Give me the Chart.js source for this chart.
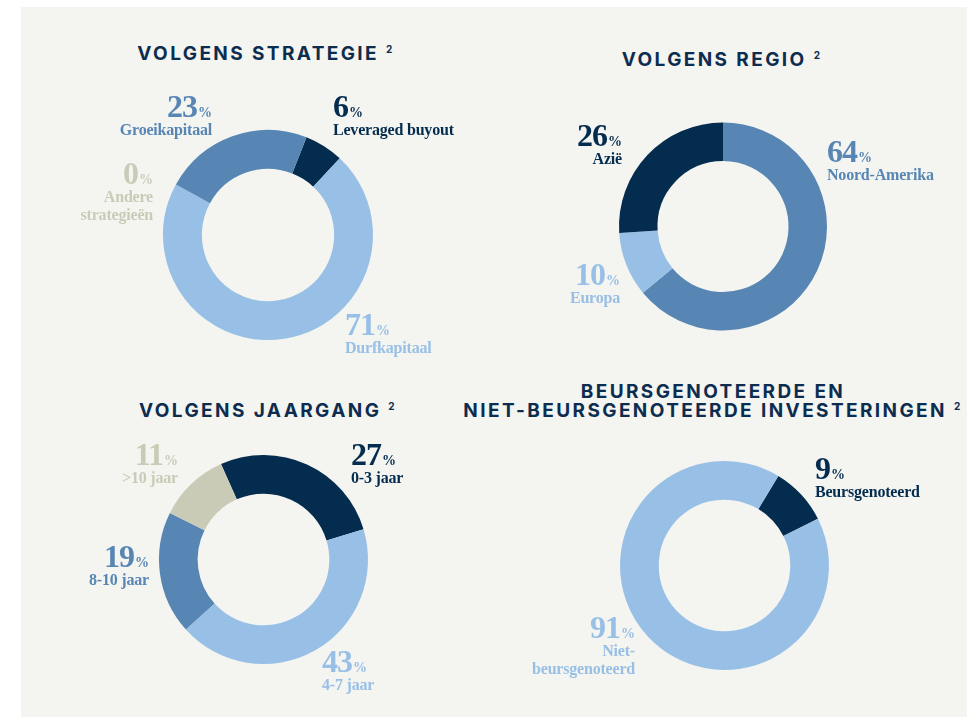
<!DOCTYPE html>
<html>
<head>
<meta charset="utf-8">
<script src="https://cdn.jsdelivr.net/npm/chart.js@4"></script>
<style>
  html, body { margin: 0; padding: 0; background: #ffffff; }
  #panel { position: absolute; left: 21px; top: 7px; width: 946px; height: 710px; background: #f4f4f0; }
  .box { position: absolute; }
  .title { position: absolute; text-align: center; font-family: Inter, sans-serif; font-weight: 700;
           font-size: 19px; line-height: 19px; letter-spacing: 2.4px; color: #0c2d4f; white-space: nowrap; }
  .title sup { font-size: 10px; vertical-align: 0; position: relative; top: -7px; margin-left: 7px; }
</style>
</head>
<body>
<div id="panel"></div>
<div class="title" style="left:66px; width:400px; top:44px;">VOLGENS STRATEGIE<sup>2</sup></div>
<div class="title" style="left:522px; width:400px; top:50px;">VOLGENS REGIO<sup>2</sup></div>
<div class="title" style="left:68px; width:400px; top:401px;">VOLGENS JAARGANG<sup>2</sup></div>
<div class="title" style="left:463px; width:500px; top:382px;">BEURSGENOTEERDE EN</div>
<div class="title" style="left:413px; width:600px; top:401px;">NIET-BEURSGENOTEERDE INVESTERINGEN<sup>2</sup></div>

<div class="box" style="left:20px; top:80px; width:470px; height:290px;"><canvas id="strategie"></canvas></div>
<div class="box" style="left:490px; top:90px; width:477px; height:290px;"><canvas id="regio"></canvas></div>
<div class="box" style="left:20px; top:430px; width:470px; height:288px;"><canvas id="jaargang"></canvas></div>
<div class="box" style="left:490px; top:430px; width:477px; height:288px;"><canvas id="beurs"></canvas></div>

<script>
// data
const strategyLabels = ['Leveraged buyout', 'Durfkapitaal', ['Andere', 'strategieën'], 'Groeikapitaal'];
const strategyValues = [6, 71, 0, 23];

const regionLabels = ['Noord-Amerika', 'Europa', 'Azië'];
const regionValues = [64, 10, 26];

const vintageLabels = ['0-3 jaar', '4-7 jaar', '8-10 jaar', '>10 jaar'];
const vintageValues = [27, 43, 19, 11];

const listedLabels = ['Beursgenoteerd', ['Niet-', 'beursgenoteerd']];
const listedValues = [9, 91];

const DARK = '#042c4f', MID = '#5886b4', LIGHT = '#98c0e6', BEIGE = '#cacbb7';

// label drawing: big number + small %, name under it
const pctLabels = {
  id: 'pctLabels',
  afterDraw(chart, args, opts) {
    const ctx = chart.ctx;
    const arc = chart.getDatasetMeta(0).data[0];
    const cx = arc.x, cy = arc.y;
    const ds = chart.data.datasets[0];
    opts.spots.forEach((s, i) => {
      const col = ds.backgroundColor[i];
      const num = String(ds.data[i]);
      ctx.save();
      ctx.fillStyle = col;
      ctx.textBaseline = 'alphabetic';
      ctx.letterSpacing = '-1px';
      ctx.font = 'bold 32px "Liberation Serif"';
      const wNum = ctx.measureText(num).width;
      ctx.letterSpacing = '0px';
      ctx.font = 'bold 14px "Liberation Serif"';
      const wPct = ctx.measureText('%').width;
      let x0 = cx + s.dx;
      if (s.align === 'right') x0 -= wNum + wPct + 1;
      const y0 = cy + s.dy;
      ctx.textAlign = 'left';
      ctx.letterSpacing = '-1px';
      ctx.font = 'bold 32px "Liberation Serif"';
      ctx.fillText(num, x0, y0);
      ctx.letterSpacing = '0px';
      ctx.font = 'bold 14px "Liberation Serif"';
      ctx.fillText('%', x0 + wNum + 1, y0);
      let lines = chart.data.labels[i];
      if (!Array.isArray(lines)) lines = [lines];
      ctx.font = 'bold 16px "Liberation Serif"';
      ctx.letterSpacing = '-0.2px';
      ctx.textAlign = s.align;
      lines.forEach((ln, k) => ctx.fillText(ln, cx + s.dx, y0 + 18 + k * 18));
      ctx.restore();
    });
  }
};

function makeDonut(id, labels, values, colors, rotation, pad, spots) {
  return new Chart(document.getElementById(id), {
    type: 'doughnut',
    data: {
      labels: labels,
      datasets: [{ data: values, backgroundColor: colors, borderWidth: 0, hoverOffset: 0 }]
    },
    options: {
      responsive: true,
      maintainAspectRatio: false,
      animation: false,
      cutout: '63%',
      rotation: rotation,
      layout: { padding: pad },
      events: [],
      plugins: {
        legend: { display: false },
        tooltip: { enabled: false },
        pctLabels: { spots: spots }
      }
    },
    plugins: [pctLabels]
  });
}

makeDonut('strategie', strategyLabels, strategyValues, [DARK, LIGHT, BEIGE, MID], 21.5,
  { left: 143, right: 117, top: 50, bottom: 30 },
  [ { dx: 65, dy: -118, align: 'left' },
    { dx: 77, dy: 100, align: 'left' },
    { dx: -115, dy: -51, align: 'right' },
    { dx: -56, dy: -118, align: 'right' } ]);

makeDonut('regio', regionLabels, regionValues, [MID, LIGHT, DARK], 0,
  { left: 129, right: 140, top: 32.5, bottom: 49.5 },
  [ { dx: 104, dy: -64.5, align: 'left' },
    { dx: -103, dy: 58.5, align: 'right' },
    { dx: -101, dy: -80.5, align: 'right' } ]);

makeDonut('jaargang', vintageLabels, vintageValues, [DARK, LIGHT, MID, BEIGE], -24,
  { left: 139, right: 122, top: 25, bottom: 54 },
  [ { dx: 87.5, dy: -94.5, align: 'left' },
    { dx: 58.5, dy: 112.5, align: 'left' },
    { dx: -114.5, dy: 7.5, align: 'right' },
    { dx: -85.5, dy: -94.5, align: 'right' } ]);

makeDonut('beurs', listedLabels, listedValues, [DARK, LIGHT], 31,
  { left: 130, right: 138, top: 31, bottom: 48 },
  [ { dx: 90.5, dy: -86.5, align: 'left' },
    { dx: -89.5, dy: 72.5, align: 'right' } ]);
</script>
</body>
</html>
